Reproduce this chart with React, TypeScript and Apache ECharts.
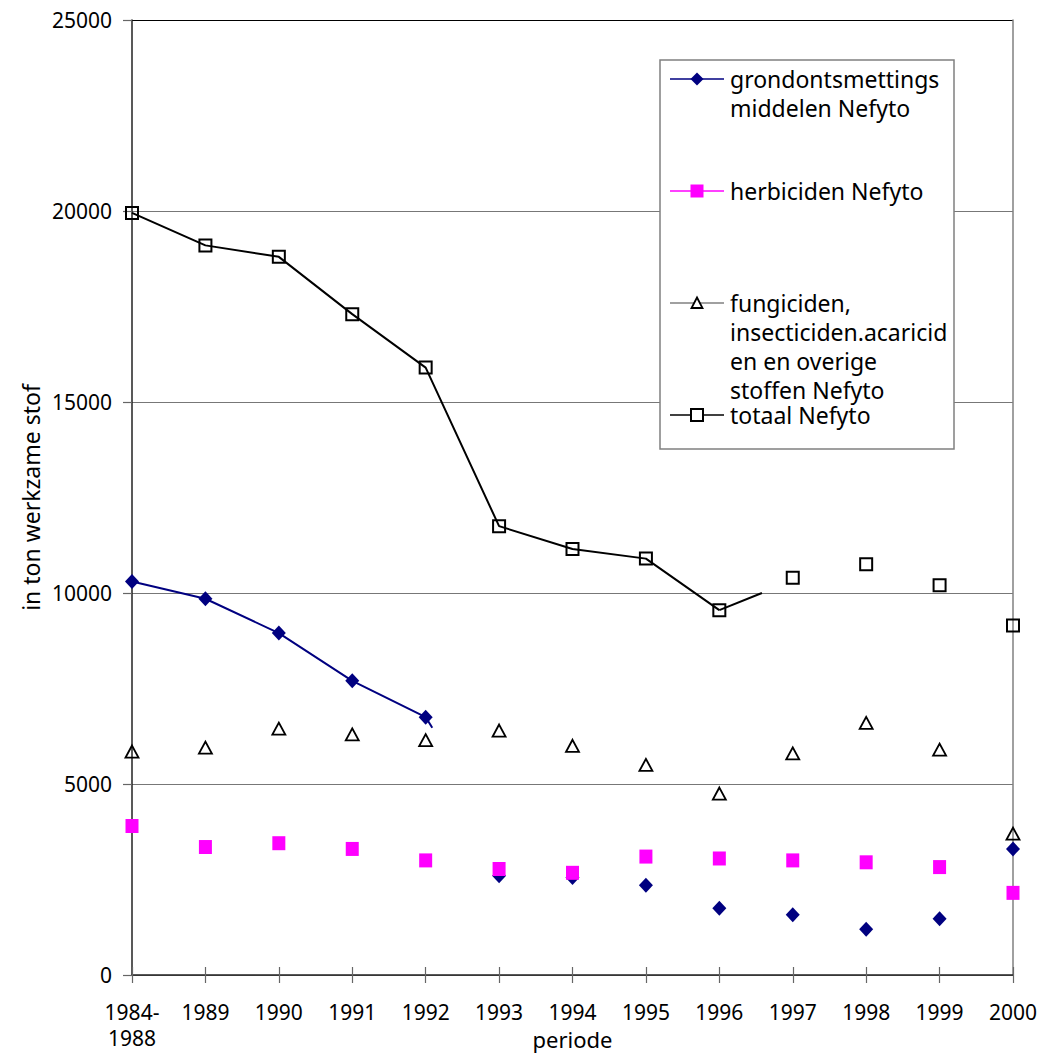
import React, { useEffect, useRef } from "react";
import * as echarts from "echarts";

const categories = ["1984-\n1988", "1989", "1990", "1991", "1992", "1993", "1994", "1995", "1996", "1997", "1998", "1999", "2000"];

const seriesNames = [
  "grondontsmettings middelen Nefyto",
  "herbiciden Nefyto",
  "fungiciden, insecticiden.acaricid en en overige stoffen Nefyto",
  "totaal Nefyto",
];
const legendLabels = [
  "grondontsmettings\nmiddelen Nefyto",
  "herbiciden Nefyto",
  "fungiciden,\ninsecticiden.acaricid\nen en overige\nstoffen Nefyto",
  "totaal Nefyto",
];

const grondValues = [10300, 9850, 8950, 7700, 6750, 2600, 2550, 2350, 1750, 1575, 1200, 1475, 3300];
const herbValues = [3900, 3350, 3450, 3300, 3000, 2775, 2675, 3100, 3050, 3000, 2950, 2825, 2150];
const fungValues = [5850, 5950, 6450, 6300, 6150, 6400, 6000, 5500, 4750, 5800, 6600, 5900, 3700];
const totaalValues = [19950, 19100, 18800, 17300, 15900, 11750, 11150, 10900, 9550, 10400, 10750, 10200, 9150];

// index of the last point joined by a line
const grondLineEnd = 4;
const totaalLineEnd = 8;
// short broken line pieces after the last joined point: [category position, value]
const grondStub = [[4, 6750], [4.09, 6470]];
const totaalStub = [[8, 9550], [8.58, 10000]];

const yMin = 0;
const yMax = 25000;
const yInterval = 5000;

const NAVY = "#000080";
const MAGENTA = "#ff00ff";
const FONT = "Noto Sans";

function lineData(values: number[], end: number) {
  return values.map((v, i) => (i <= end ? v : null));
}

export default function App() {
  const ref = useRef<HTMLDivElement>(null);

  useEffect(() => {
    if (!ref.current) return;
    const chart = echarts.init(ref.current, undefined, { renderer: "svg" });

    const legendRows = [79, 191, 303, 415];
    const lx1 = 670, lx2 = 724, lmx = 697, ltx = 730;
    const legendGraphics: any[] = [
      {
        type: "rect",
        shape: { x: 660, y: 60, width: 294, height: 389 },
        style: { fill: "#fff", stroke: "#808080", lineWidth: 1.5 },
        z: 100,
      },
    ];
    const lineColors = [NAVY, MAGENTA, "#808080", "#000"];
    legendRows.forEach((y, i) => {
      legendGraphics.push({
        type: "line",
        shape: { x1: lx1, y1: y, x2: lx2, y2: y },
        style: { stroke: lineColors[i], lineWidth: 1.5 },
        z: 101,
      });
      let marker: any;
      if (i === 0) {
        marker = { type: "polygon", shape: { points: [[lmx, y - 6.5], [lmx + 6.5, y], [lmx, y + 6.5], [lmx - 6.5, y]] }, style: { fill: NAVY } };
      } else if (i === 1) {
        marker = { type: "rect", shape: { x: lmx - 6.5, y: y - 6.5, width: 13, height: 13 }, style: { fill: MAGENTA } };
      } else if (i === 2) {
        marker = { type: "polygon", shape: { points: [[lmx, y - 5.5], [lmx + 5.5, y + 5], [lmx - 5.5, y + 5]] }, style: { fill: "#fff", stroke: "#000", lineWidth: 1.8 } };
      } else {
        marker = { type: "rect", shape: { x: lmx - 6, y: y - 6, width: 12, height: 12 }, style: { fill: "#fff", stroke: "#000", lineWidth: 2 } };
      }
      marker.z = 102;
      legendGraphics.push(marker);
      legendGraphics.push({
        type: "text",
        x: ltx,
        y: y - 14.5,
        style: {
          text: legendLabels[i],
          fill: "#000",
          font: `23px '${FONT}'`,
          lineHeight: 29,
          verticalAlign: "top",
        },
        z: 102,
      });
    });

    const option: any = {
      animation: false,
      textStyle: { fontFamily: FONT },
      grid: { left: 132, right: 27, top: 20, bottom: 81, containLabel: false, outerBoundsMode: "none" },
      xAxis: [
        {
          type: "category",
          data: categories,
          boundaryGap: false,
          position: "bottom",
          name: "periode",
          nameLocation: "middle",
          nameGap: 53,
          nameMoveOverlap: false,
          nameTextStyle: { fontSize: 22, lineHeight: 22, color: "#000", fontFamily: FONT },
          axisLine: { lineStyle: { color: "#222", width: 1.5 } },
          axisTick: { show: true, inside: false, length: 8, lineStyle: { color: "#666", width: 1.2 } },
          axisLabel: { fontSize: 21, color: "#000", lineHeight: 26, margin: 24, interval: 0, fontFamily: FONT },
          splitLine: { show: false },
        },
        {
          type: "value",
          min: 0,
          max: categories.length - 1,
          interval: 1,
          position: "bottom",
          axisLine: { show: false },
          axisTick: { show: true, inside: true, length: 8, lineStyle: { color: "#666", width: 1.2 } },
          axisLabel: { show: false },
          splitLine: { show: false },
        },
      ],
      yAxis: [
        {
          type: "value",
          min: yMin,
          max: yMax,
          interval: yInterval,
          position: "left",
          name: "in ton werkzame stof",
          nameLocation: "middle",
          nameGap: 90,
          nameMoveOverlap: false,
          nameTextStyle: { fontSize: 23, color: "#000", fontFamily: FONT },
          axisLine: { show: true, lineStyle: { color: "#222", width: 1.5 } },
          axisTick: { show: true, inside: false, length: 9, lineStyle: { color: "#666", width: 1.2 } },
          axisLabel: { fontSize: 21, color: "#000", margin: 20, fontFamily: FONT, formatter: (v: number) => String(v) },
          splitLine: {
            show: true,
            lineStyle: { color: ["#777", "#777", "#777", "#777", "#777", "#000"], width: 1.2 },
          },
        },
        {
          type: "value",
          min: yMin,
          max: yMax,
          interval: yInterval,
          position: "right",
          axisLine: { show: true, lineStyle: { color: "#808080", width: 1.5 } },
          axisTick: { show: false },
          axisLabel: { show: false },
          splitLine: { show: false },
        },
      ],
      series: [
        {
          name: seriesNames[0] + " line",
          type: "line",
          data: lineData(grondValues, grondLineEnd),
          showSymbol: false,
          connectNulls: false,
          lineStyle: { color: NAVY, width: 2 },
          z: 2,
          clip: false,
        },
        {
          name: seriesNames[0] + " stub",
          type: "line",
          xAxisIndex: 1,
          data: grondStub,
          showSymbol: false,
          lineStyle: { color: NAVY, width: 2 },
          z: 2,
          clip: false,
        },
        {
          name: seriesNames[3] + " line",
          type: "line",
          data: lineData(totaalValues, totaalLineEnd),
          showSymbol: false,
          connectNulls: false,
          lineStyle: { color: "#000", width: 2 },
          z: 2,
          clip: false,
        },
        {
          name: seriesNames[3] + " stub",
          type: "line",
          xAxisIndex: 1,
          data: totaalStub,
          showSymbol: false,
          lineStyle: { color: "#000", width: 2 },
          z: 2,
          clip: false,
        },
        {
          name: seriesNames[0],
          type: "scatter",
          data: grondValues,
          symbol: "diamond",
          symbolSize: [14, 15],
          itemStyle: { color: NAVY, opacity: 1 },
          z: 3,
          clip: false,
        },
        {
          name: seriesNames[1],
          type: "scatter",
          data: herbValues,
          symbol: "rect",
          symbolSize: [13, 14],
          itemStyle: { color: MAGENTA, opacity: 1 },
          z: 4,
          clip: false,
        },
        {
          name: seriesNames[2],
          type: "scatter",
          data: fungValues,
          symbol: "triangle",
          symbolSize: [13, 12],
          itemStyle: { color: "rgba(255,255,255,0)", borderColor: "#000", borderWidth: 1.8, opacity: 1 },
          z: 5,
          clip: false,
        },
        {
          name: seriesNames[3],
          type: "scatter",
          data: totaalValues,
          symbol: "rect",
          symbolSize: [12, 12],
          itemStyle: { color: "rgba(255,255,255,0)", borderColor: "#000", borderWidth: 2, opacity: 1 },
          z: 5,
          clip: false,
        },
      ],
      graphic: legendGraphics,
    };

    chart.setOption(option);
    return () => chart.dispose();
  }, []);

  return (
    <div
      ref={ref}
      style={{ position: "absolute", left: 0, top: 0, width: 1040, height: 1056, background: "#fff" }}
    />
  );
}
